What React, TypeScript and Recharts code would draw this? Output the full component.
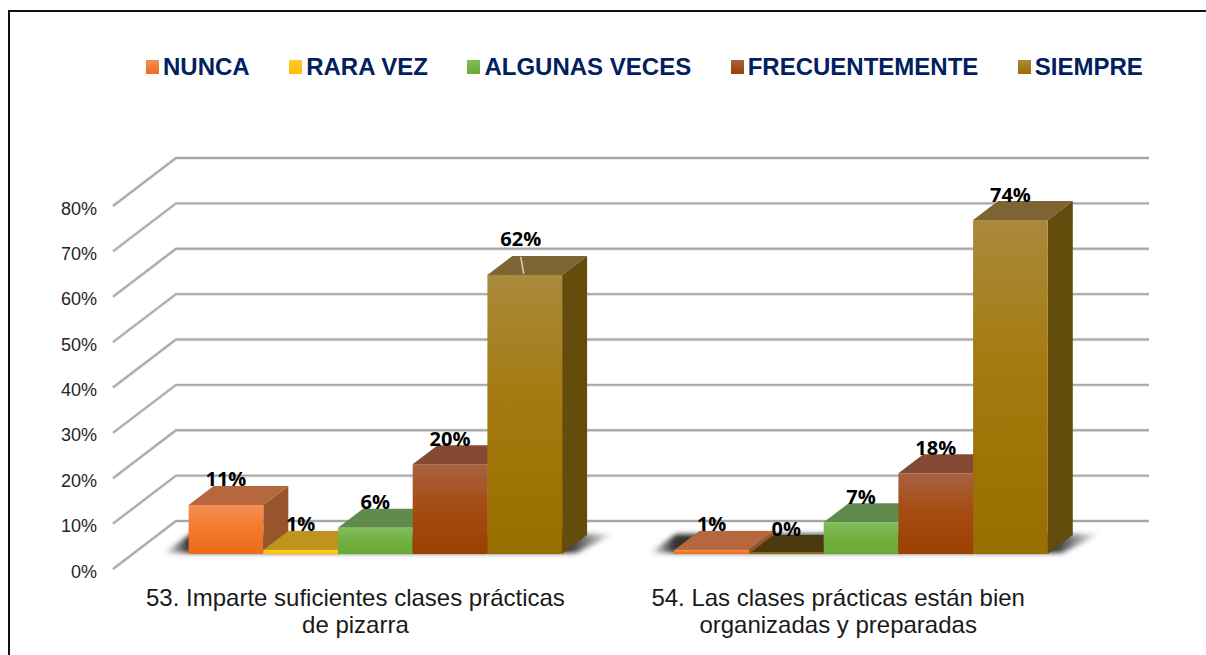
import { BarChart, Bar, XAxis, YAxis, CartesianGrid, Legend, LabelList } from 'recharts';

const categories = [
  '53. Imparte suficientes clases prácticas\nde pizarra',
  '54. Las clases prácticas están bien\norganizadas y preparadas',
];
const seriesNames = ['NUNCA', 'RARA VEZ', 'ALGUNAS VECES', 'FRECUENTEMENTE', 'SIEMPRE'];
// heights; the labels show them rounded
const nunca = [10.8, 0.9];
const raraVez = [0.9, 0];
const algunasVeces = [5.8, 7];
const frecuentemente = [19.8, 17.8];
const siempre = [61.5, 73.6];
const yTicks = [0, 10, 20, 30, 40, 50, 60, 70, 80];

const seriesValues = [nunca, raraVez, algunasVeces, frecuentemente, siempre];
const data = categories.map((name, i) => {
  const row: Record<string, string | number> = { name };
  seriesNames.forEach((s, j) => {
    row[s] = seriesValues[j][i];
  });
  return row;
});

// light / mid / dark of the front face, then top and side face
const palette = [
  { light: '#F58F58', mid: '#F57B2C', dark: '#EC6A1C', top: '#B5683E', side: '#98552B' },
  { light: '#FFC92F', mid: '#FFC31A', dark: '#FFC000', top: '#BE941F', side: '#A07C12' },
  { light: '#82BC5E', mid: '#72B043', dark: '#69A933', top: '#5F8A4B', side: '#4F7038' },
  { light: '#A8623F', mid: '#A64D14', dark: '#9C3F00', top: '#844A33', side: '#6F3A1A' },
  { light: '#AA893C', mid: '#A47A0E', dark: '#996E00', top: '#7E6333', side: '#644C0C' },
];

const DEPTH_X = 25;
const DEPTH_Y = 19;
const FONT = '"Liberation Sans", Arial, sans-serif';

function GridLine(props: any) {
  const { y1, x2 } = props;
  const frontY = y1 + 15;
  const backY = y1 - 33;
  const d = `M113 ${frontY} L176 ${backY} L${x2 + 45} ${backY}`;
  return (
    <g fill="none">
      <path d={d} stroke="#BDBDBD" strokeOpacity={0.4} strokeWidth={3.5} />
      <path d={d} stroke="#A6A6A6" strokeWidth={1.8} />
    </g>
  );
}

function YTick({ y, payload }: any) {
  return (
    <text x={97} y={y + 17.5} textAnchor="end" dominantBaseline="central" fontFamily={FONT} fontSize={18} fill="#262626">
      {`${payload.value}%`}
    </text>
  );
}

function XTick({ x, y, index, payload }: any) {
  const lines: string[] = String(payload.value).split('\n');
  return (
    <text textAnchor="middle" fontFamily={FONT} fontSize={24} fill="#1A1A1A">
      {lines.map((line, i) => (
        <tspan key={line} x={x - 20 - index * 3} y={y + 44 + i * 27}>
          {line}
        </tspan>
      ))}
    </text>
  );
}

function renderBar(seriesIndex: number) {
  return function Bar3D(props: any) {
    const { x, y, width: w, height: h, value } = props;
    const c = palette[seriesIndex];
    const isZero = value === 0;
    const base = y + h;
    const right = x + w;
    return (
      <g>
        {seriesIndex === 0 && (
          <polygon
            points={`${x - 25},${base - 1} ${x + 5 * w + 14},${base - 1} ${x + 5 * w + 52},${base - 20} ${x + 2},${base - 20}`}
            fill="url(#floorShadow)"
            filter="url(#softBlur)"
          />
        )}
        <polygon
          points={`${right},${y} ${right + DEPTH_X},${y - DEPTH_Y} ${right + DEPTH_X},${base - DEPTH_Y} ${right},${base}`}
          fill={c.side}
        />
        <polygon
          points={`${x},${y} ${x + DEPTH_X},${y - DEPTH_Y} ${right + DEPTH_X},${y - DEPTH_Y} ${right},${y}`}
          fill={isZero ? '#4A390C' : c.top}
        />
        {isZero ? (
          <rect x={x} y={y - 2} width={w} height={2} fill="#8C6A12" />
        ) : (
          <rect x={x} y={y} width={w} height={h} fill={`url(#front${seriesIndex})`} />
        )}
      </g>
    );
  };
}

function BarLabel({ x, y, width, value }: any) {
  const shown = Math.round(value);
  const leader = shown === 62;
  const cx = x + width / 2 + (leader ? -4 : 0);
  const cy = y - (leader ? 36 : 26);
  return (
    <g>
      {leader && <line x1={cx} y1={y - 18} x2={cx + 3} y2={y - 1} stroke="#D9D2C0" strokeWidth={1.5} />}
      <text x={cx} y={cy} textAnchor="middle" dominantBaseline="central" fontFamily='"Open Sans", sans-serif' fontWeight={700} fontSize={20} fill="#000">
        {`${shown}%`}
      </text>
    </g>
  );
}

function LegendContent() {
  return (
    <div style={{ display: 'flex', columnGap: 39.5, fontFamily: FONT, fontWeight: 700, fontSize: 24, color: '#002060', lineHeight: '28px' }}>
      {seriesNames.map((name, i) => (
        <div key={name} style={{ display: 'flex', alignItems: 'center', whiteSpace: 'nowrap' }}>
          <span
            style={{
              width: 13,
              height: 14,
              marginRight: 4,
              background: `linear-gradient(${palette[i].light}, ${palette[i].dark})`,
            }}
          />
          {name}
        </div>
      ))}
    </div>
  );
}

export default function App() {
  return (
    <div style={{ position: 'absolute', left: 0, top: 0, width: 1206, height: 655, overflow: 'hidden', background: '#fff' }}>
      <div
        style={{
          position: 'absolute',
          left: 8,
          top: 10,
          width: 1300,
          height: 800,
          borderLeft: '2px solid #111',
          borderTop: '2px solid #111',
        }}
      />
      <BarChart
        width={1206}
        height={655}
        data={data}
        barGap={0}
        barCategoryGap={56}
        margin={{ top: 191, right: 102, bottom: 41, left: 8.6 }}
        style={{ position: 'absolute', left: 0, top: 0 }}
      >
        <defs>
          {palette.map((c, i) => (
            <linearGradient key={c.light} id={`front${i}`} x1="0" y1="0" x2="0" y2="1">
              <stop offset="0" stopColor={c.light} />
              <stop offset="0.45" stopColor={c.mid} />
              <stop offset="1" stopColor={c.dark} />
            </linearGradient>
          ))}
          <linearGradient id="floorShadow" x1="0" y1="0" x2="1" y2="0">
            <stop offset="0" stopColor="#333" stopOpacity={0} />
            <stop offset="0.055" stopColor="#333" stopOpacity={1} />
            <stop offset="0.9" stopColor="#333" stopOpacity={1} />
            <stop offset="1" stopColor="#333" stopOpacity={0} />
          </linearGradient>
          <filter id="softBlur" x="-10%" y="-50%" width="120%" height="200%">
            <feGaussianBlur stdDeviation="2.5" />
          </filter>
        </defs>
        <CartesianGrid vertical={false} horizontal={(p: any) => <GridLine key={p.index} {...p} />} />
        <XAxis dataKey="name" axisLine={false} tickLine={false} height={60} tick={XTick} interval={0} />
        <YAxis domain={[0, 80]} ticks={yTicks} width={124} axisLine={false} tickLine={false} tick={YTick} />
        <Legend
          verticalAlign="middle"
          layout="horizontal"
          content={LegendContent}
          wrapperStyle={{ left: 146, top: 53, width: 'auto' }}
        />
        {seriesNames.map((s, i) => (
          <Bar key={s} dataKey={s} barSize={74.7} isAnimationActive={false} fill={palette[i].dark} shape={renderBar(i)}>
            <LabelList dataKey={s} content={BarLabel} />
          </Bar>
        ))}
      </BarChart>
    </div>
  );
}
